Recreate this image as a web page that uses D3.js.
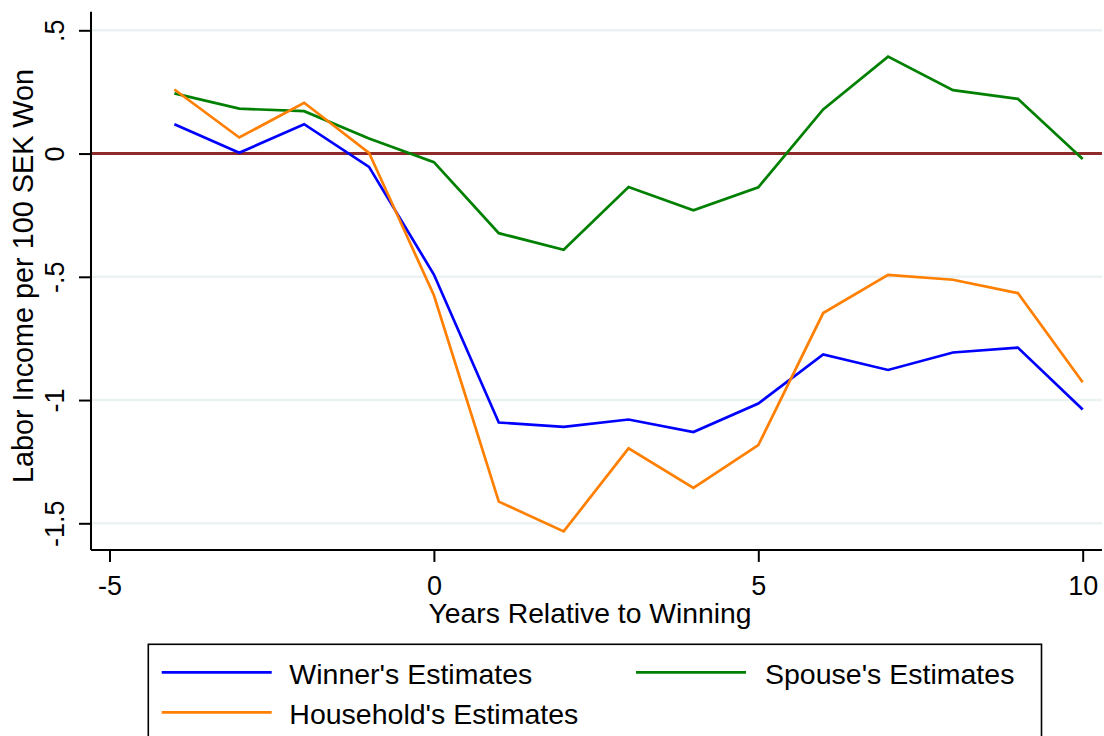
<!DOCTYPE html>
<html>
<head>
<meta charset="utf-8">
<script src="https://cdn.jsdelivr.net/npm/d3@7"></script>
<style>
  html, body { margin: 0; padding: 0; background: #fff; }
  svg { display: block; font-family: Arial, "Liberation Sans", sans-serif; }
</style>
</head>
<body>
<svg id="chart" width="1104" height="736"></svg>
<script>
// Event-study estimates: labor income response per 100 SEK won
const years = [-4, -3, -2, -1, 0, 1, 2, 3, 4, 5, 6, 7, 8, 9, 10];
const winner = [0.119, 0.003, 0.119, -0.054, -0.491, -1.091, -1.109, -1.079, -1.130, -1.014, -0.815, -0.878, -0.807, -0.787, -1.038];
const spouse = [0.244, 0.182, 0.172, 0.061, -0.035, -0.323, -0.390, -0.136, -0.230, -0.137, 0.179, 0.393, 0.257, 0.222, -0.022];
const household = [0.260, 0.065, 0.206, 0.003, -0.575, -1.412, -1.533, -1.196, -1.356, -1.183, -0.647, -0.492, -0.512, -0.566, -0.928];

const xTicks = [-5, 0, 5, 10];
const xTickLabels = ["-5", "0", "5", "10"];
const yTicks = [0.5, 0, -0.5, -1, -1.5];
const yTickLabels = [".5", "0", "-.5", "-1", "-1.5"];
const seriesNames = ["Winner's Estimates", "Spouse's Estimates", "Household's Estimates"];
const seriesColors = ["#0000ff", "#008000", "#ff7f00"];

const svg = d3.select("#chart");

const x = d3.scaleLinear().domain([-5, 10]).range([109.5, 1082.7]);
const y = d3.scaleLinear().domain([-1.5, 0.5]).range([523.3, 30.3]);
const xExtent = [-5.285, 10.297];
const yExtent = [-1.608, 0.575];

// Horizontal grid lines (zero line drawn separately)
svg.append("g")
  .selectAll("line")
  .data(yTicks.filter(d => d !== 0))
  .join("line")
  .attr("x1", x(xExtent[0])).attr("x2", x(xExtent[1]))
  .attr("y1", d => y(d)).attr("y2", d => y(d))
  .attr("stroke", "#eaf2f3")
  .attr("stroke-width", 2.6);

// Zero reference line
svg.append("line")
  .attr("x1", x(xExtent[0])).attr("x2", x(xExtent[1]))
  .attr("y1", y(0)).attr("y2", y(0))
  .attr("stroke", "#8e2a2a")
  .attr("stroke-width", 3);

// Y axis
const yAxis = d3.axisLeft(y)
  .tickValues(yTicks)
  .tickSize(12)
  .tickPadding(0)
  .tickFormat((d, i) => yTickLabels[i]);
const gy = svg.append("g")
  .attr("transform", `translate(${x(xExtent[0])},0)`)
  .call(yAxis);
gy.select(".domain").remove();
gy.selectAll(".tick line").attr("stroke", "#000").attr("stroke-width", 2);
gy.selectAll(".tick text")
  .attr("x", null).attr("dy", null)
  .attr("transform", "translate(-27,0) rotate(-90)")
  .attr("text-anchor", "middle")
  .attr("font-size", 27)
  .attr("fill", "#000");
svg.append("line")
  .attr("x1", x(xExtent[0])).attr("x2", x(xExtent[0]))
  .attr("y1", y(yExtent[1])).attr("y2", y(yExtent[0]))
  .attr("stroke", "#000").attr("stroke-width", 2);

// X axis
const xAxis = d3.axisBottom(x)
  .tickValues(xTicks)
  .tickSize(12)
  .tickPadding(14)
  .tickFormat((d, i) => xTickLabels[i]);
const gx = svg.append("g")
  .attr("transform", `translate(0,${y(yExtent[0])})`)
  .call(xAxis);
gx.select(".domain").remove();
gx.selectAll(".tick line").attr("stroke", "#000").attr("stroke-width", 2);
gx.selectAll(".tick text")
  .attr("font-size", 27)
  .attr("fill", "#000")
  .attr("dy", null)
  .attr("y", 45.5);
svg.append("line")
  .attr("x1", x(xExtent[0])).attr("x2", x(xExtent[1]))
  .attr("y1", y(yExtent[0])).attr("y2", y(yExtent[0]))
  .attr("stroke", "#000").attr("stroke-width", 2);

// Axis titles
svg.append("text")
  .attr("x", 590).attr("y", 623)
  .attr("text-anchor", "middle")
  .attr("font-size", 28.3)
  .text("Years Relative to Winning");

svg.append("text")
  .attr("transform", `translate(33,${276}) rotate(-90)`)
  .attr("text-anchor", "middle")
  .attr("font-size", 28.8)
  .text("Labor Income per 100 SEK Won");

// Series lines
const line = d3.line()
  .x(d => x(d[0]))
  .y(d => y(d[1]));

[winner, spouse, household].forEach((vals, i) => {
  svg.append("path")
    .datum(years.map((yr, j) => [yr, vals[j]]))
    .attr("d", line)
    .attr("fill", "none")
    .attr("stroke", seriesColors[i])
    .attr("stroke-width", 2.7)
    .attr("stroke-linejoin", "miter");
});

// Legend
const legend = svg.append("g");
legend.append("rect")
  .attr("x", 148.3).attr("y", 644.3)
  .attr("width", 1041.5 - 148.3).attr("height", 140)
  .attr("fill", "#fff")
  .attr("stroke", "#000")
  .attr("stroke-width", 1.6);

const legendPos = [
  { lx: 161.7, tx: 289.3, ly: 672.3 },
  { lx: 636.0, tx: 765.0, ly: 672.3 },
  { lx: 161.7, tx: 289.3, ly: 712.3 }
];
const items = legend.selectAll("g.item")
  .data(seriesNames)
  .join("g")
  .attr("class", "item");
items.append("line")
  .attr("x1", (d, i) => legendPos[i].lx)
  .attr("x2", (d, i) => legendPos[i].lx + 110)
  .attr("y1", (d, i) => legendPos[i].ly)
  .attr("y2", (d, i) => legendPos[i].ly)
  .attr("stroke", (d, i) => seriesColors[i])
  .attr("stroke-width", 2.7);
items.append("text")
  .attr("x", (d, i) => legendPos[i].tx)
  .attr("y", (d, i) => legendPos[i].ly + 11.8)
  .attr("font-size", 28.5)
  .attr("fill", "#000")
  .text(d => d);
</script>
</body>
</html>
